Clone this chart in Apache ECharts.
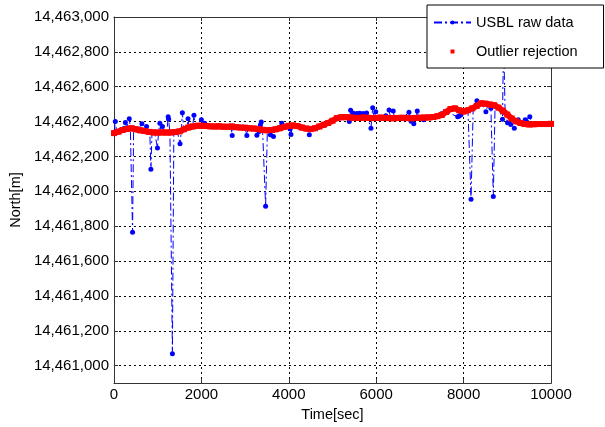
<!DOCTYPE html>
<html>
<head>
<meta charset="utf-8">
<title>USBL North position</title>
<script src="https://cdn.jsdelivr.net/npm/echarts@6/dist/echarts.min.js"></script>
<style>
  html, body { margin: 0; padding: 0; background: #fff; }
  #chart { width: 605px; height: 427px; }
</style>
</head>
<body>
<div id="chart"></div>
<script>
// Raw USBL fixes (time in s, North in m)
var rawTime = [
  0, 30, 60, 150, 230, 260, 290, 330, 350, 375, 425, 450, 540, 640, 670, 720, 745, 770, 820, 845,
  870, 930, 995, 1020, 1050, 1080, 1110, 1140, 1210, 1240, 1250, 1280, 1337, 1370, 1450, 1512, 1540, 1565, 1600, 1670,
  1695, 1720, 1800, 1830, 1860, 1960, 2000, 2040, 2075, 2110, 2300, 2500, 2680, 2705, 2730, 2850, 3000, 3040, 3070, 3200,
  3270, 3320, 3350, 3370, 3400, 3470, 3510, 3580, 3620, 3650, 3690, 3790, 3840, 3870, 3990, 4030, 4050, 4080, 4200, 4350,
  4470, 4500, 4650, 4800, 5000, 5200, 5385, 5415, 5450, 5480, 5560, 5620, 5700, 5780, 5810, 5880, 5900, 5920, 5950, 5990,
  6020, 6150, 6220, 6250, 6295, 6330, 6390, 6420, 6600, 6750, 6780, 6800, 6860, 6900, 6940, 6970, 7085, 7120, 7300, 7490,
  7600, 7865, 7900, 7940, 8000, 8100, 8170, 8220, 8305, 8400, 8510, 8560, 8625, 8680, 8720, 8800, 8890, 8915, 8950, 9005,
  9080, 9160, 9200, 9250, 9300, 9410, 9440, 9515, 9560, 9700, 9850, 10000
];
var rawNorth = [
  14462338, 14462400, 14462345, 14462352, 14462360, 14462395, 14462362, 14462362, 14462417, 14462360,
  14461766, 14462358, 14462352, 14462387, 14462350, 14462348, 14462372, 14462345, 14462342, 14462126,
  14462340, 14462339, 14462249, 14462338, 14462391, 14462338, 14462372, 14462338, 14462337, 14462428,
  14462413, 14462338, 14461069, 14462339, 14462341, 14462273, 14462345, 14462451, 14462355, 14462365,
  14462417, 14462368, 14462372, 14462436, 14462375, 14462376, 14462410, 14462376, 14462390, 14462375,
  14462372, 14462371, 14462370, 14462320, 14462370, 14462367, 14462365, 14462320, 14462364, 14462360,
  14462322, 14462343, 14462381, 14462398, 14462353, 14461914, 14462351, 14462324, 14462351, 14462315,
  14462355, 14462366, 14462391, 14462370, 14462376, 14462358, 14462326, 14462376, 14462374, 14462362,
  14462324, 14462357, 14462365, 14462378, 14462405, 14462424, 14462400, 14462465, 14462425, 14462448,
  14462446, 14462448, 14462447, 14462450, 14462420, 14462362, 14462420, 14462480, 14462420, 14462457,
  14462420, 14462420, 14462434, 14462420, 14462466, 14462420, 14462461, 14462420, 14462421, 14462453,
  14462420, 14462402, 14462387, 14462420, 14462461, 14462420, 14462410, 14462422, 14462425, 14462445,
  14462455, 14462428, 14462432, 14462440, 14462458, 14462466, 14461955, 14462476, 14462519, 14462505,
  14462457, 14462500, 14462476, 14461970, 14462490, 14462480, 14462414, 14462880, 14462452, 14462394,
  14462383, 14462362, 14462402, 14462410, 14462392, 14462410, 14462400, 14462428, 14462386, 14462386,
  14462386, 14462386
];

// Track after outlier rejection
var filtTime = [
  0, 100, 200, 300, 400, 500, 600, 700, 800, 900, 1000, 1100, 1200, 1300, 1400, 1500, 1600, 1700, 1800, 1900,
  2000, 2100, 2200, 2300, 2400, 2500, 2600, 2700, 2800, 2900, 3000, 3100, 3200, 3300, 3400, 3500, 3600, 3700, 3800, 3900,
  4000, 4100, 4200, 4300, 4400, 4500, 4600, 4700, 4800, 4900, 5000, 5100, 5200, 5300, 5400, 5500, 5600, 5700, 5800, 5900,
  6000, 6100, 6200, 6300, 6400, 6500, 6600, 6700, 6800, 6900, 7000, 7100, 7200, 7300, 7400, 7500, 7600, 7700, 7800, 7900,
  8000, 8100, 8200, 8300, 8400, 8500, 8600, 8700, 8800, 8900, 9000, 9100, 9200, 9300, 9400, 9500, 9600, 9700, 9800, 9900,
  10000
];
var filtNorth = [
  14462334, 14462342, 14462352, 14462358, 14462362, 14462356, 14462350, 14462346, 14462341, 14462338,
  14462337, 14462338, 14462337, 14462338, 14462340, 14462344, 14462356, 14462366, 14462372, 14462376,
  14462376, 14462375, 14462373, 14462372, 14462373, 14462371, 14462370, 14462372, 14462368, 14462366,
  14462365, 14462362, 14462360, 14462357, 14462353, 14462350, 14462352, 14462356, 14462362, 14462370,
  14462376, 14462378, 14462374, 14462366, 14462360, 14462357, 14462362, 14462372, 14462382, 14462392,
  14462405, 14462420, 14462425, 14462426, 14462424, 14462422, 14462421, 14462423, 14462422, 14462420,
  14462421, 14462423, 14462421, 14462420, 14462419, 14462421, 14462422, 14462420, 14462419, 14462421,
  14462422, 14462423, 14462424, 14462426, 14462431, 14462438, 14462455, 14462472, 14462476, 14462465,
  14462458, 14462465, 14462476, 14462490, 14462505, 14462503, 14462498, 14462494, 14462480, 14462462,
  14462440, 14462418, 14462402, 14462392, 14462386, 14462384, 14462385, 14462386, 14462386, 14462386,
  14462387
];

var northTicks = [
  14461000, 14461200, 14461400, 14461600, 14461800, 14462000,
  14462200, 14462400, 14462600, 14462800, 14463000
];
var seriesNames = ['USBL raw data', 'Outlier rejection'];

function pairs(xs, ys) {
  return xs.map(function (x, i) { return [x, ys[i]]; });
}
function thousands(v) {
  return String(Math.round(v)).replace(/\B(?=(\d{3})+(?!\d))/g, ',');
}
function plain(v) {
  return String(Math.round(v));
}

var FONT = 'Liberation Sans, Arial, sans-serif';
var yMin = 14460900, yMax = 14463000;
var RED = '#ff0000', BLUE = '#0000ff';

var chart = echarts.init(document.getElementById('chart'), null, { renderer: 'canvas' });
chart.setOption({
  animation: false,
  backgroundColor: '#fff',
  textStyle: { fontFamily: FONT },
  grid: { left: 112, right: 54, top: 17, bottom: 41, containLabel: false },
  legend: {
    orient: 'vertical',
    left: 427,
    top: 5,
    padding: [10, 26, 9, 6],
    itemGap: 14,
    itemWidth: 37,
    itemHeight: 5,
    backgroundColor: '#fff',
    borderColor: '#000',
    borderWidth: 1,
    borderRadius: 0,
    textStyle: { fontFamily: FONT, fontSize: 14.5, color: '#000' },
    data: seriesNames
  },
  xAxis: [{
    type: 'value',
    min: 0, max: 10000, interval: 2000,
    name: 'Time[sec]',
    nameLocation: 'middle',
    nameGap: 18,
    nameTextStyle: { fontFamily: FONT, fontSize: 14.5, color: '#000' },
    axisLine: { show: true, onZero: false, lineStyle: { color: '#333', width: 1 } },
    axisTick: { show: true, inside: true, length: 4, lineStyle: { color: '#333' } },
    axisLabel: { margin: 4, fontFamily: FONT, fontSize: 15, color: '#000', formatter: plain },
    splitLine: { show: true, lineStyle: { color: '#000', type: [2, 3], width: 1 } }
  }, {
    type: 'value', position: 'top',
    min: 0, max: 10000, interval: 2000,
    axisLine: { show: true, onZero: false, lineStyle: { color: '#333', width: 1 } },
    axisTick: { show: true, inside: true, length: 4, lineStyle: { color: '#333' } },
    axisLabel: { show: false },
    splitLine: { show: false }
  }],
  yAxis: [{
    type: 'value',
    min: yMin, max: yMax,
    name: 'North[m]',
    nameLocation: 'middle',
    nameGap: 82,
    nameTextStyle: { fontFamily: FONT, fontSize: 14.5, color: '#000' },
    axisLine: { show: true, onZero: false, lineStyle: { color: '#333', width: 1 } },
    axisTick: { show: true, inside: true, length: 4, customValues: northTicks, lineStyle: { color: '#333' } },
    axisLabel: { margin: 5, fontFamily: FONT, fontSize: 15, color: '#000', customValues: northTicks, formatter: thousands },
    splitLine: { show: true, lineStyle: { color: '#000', type: [2, 3], width: 1 } }
  }, {
    type: 'value', position: 'right',
    min: yMin, max: yMax,
    axisLine: { show: true, onZero: false, lineStyle: { color: '#333', width: 1 } },
    axisTick: { show: true, inside: true, length: 4, customValues: northTicks, lineStyle: { color: '#333' } },
    axisLabel: { show: false, customValues: northTicks },
    splitLine: { show: false }
  }],
  series: [{
    name: seriesNames[0],
    type: 'line',
    xAxisIndex: 0, yAxisIndex: 0,
    data: pairs(rawTime, rawNorth),
    symbol: 'circle',
    symbolSize: 5,
    showSymbol: true,
    itemStyle: { color: BLUE, borderWidth: 0, borderColor: BLUE },
    lineStyle: { color: BLUE, width: 1, type: [8, 3, 2, 3] },
    emphasis: { disabled: true },
    z: 2
  }, {
    // solid band joining the filtered samples (no legend entry)
    type: 'line',
    xAxisIndex: 0, yAxisIndex: 0,
    data: pairs(filtTime, filtNorth),
    showSymbol: false,
    symbol: 'none',
    lineStyle: { color: RED, width: 6 },
    emphasis: { disabled: true },
    silent: true,
    z: 3
  }, {
    name: seriesNames[1],
    type: 'line',
    xAxisIndex: 0, yAxisIndex: 0,
    data: pairs(filtTime, filtNorth),
    symbol: 'rect',
    symbolSize: 6,
    showSymbol: true,
    itemStyle: { color: RED, borderWidth: 0, borderColor: RED },
    lineStyle: { width: 0, opacity: 0 },
    emphasis: { disabled: true },
    z: 4
  }]
});
</script>
</body>
</html>
